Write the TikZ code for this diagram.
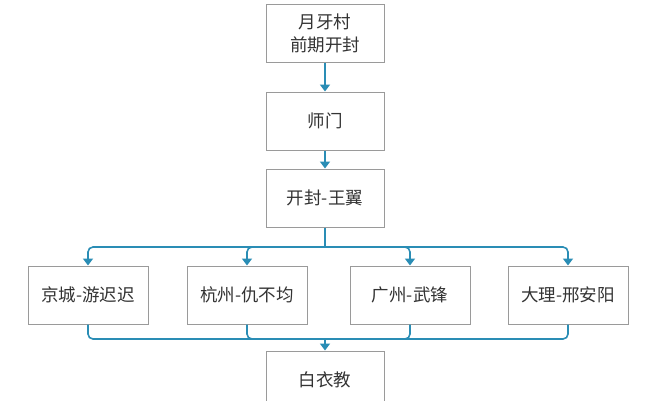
\documentclass[tikz,border=0pt]{standalone}
\usepackage{fontspec}
\setmainfont{Noto Sans CJK SC}
\usetikzlibrary{arrows.meta}
\definecolor{ln}{HTML}{2A8DB5}
\definecolor{bd}{HTML}{9A9A9A}
\begin{document}
\begin{tikzpicture}[x=1pt,y=-1pt,
  box/.style={draw=bd,line width=1pt,minimum width=118pt,minimum height=58pt,inner sep=0pt,align=center,font=\fontsize{17.5}{23}\selectfont,text=black!80},
  conn/.style={draw=ln,line width=1.6pt,-{Triangle[length=7pt,width=10pt]}},
  seg/.style={draw=ln,line width=1.6pt}]
\fill[white] (0,0) rectangle (651,400);
\clip (0,0) rectangle (651,400);
\useasboundingbox (0,0) rectangle (651,400);
\node[box] (a) at (325,33) {月牙村\\前期开封};
\node[box] (b) at (325,121) {师门};
\node[box] (c) at (325,198) {开封-王翼};
\node[box,minimum width=120pt] (d1) at (88,295) {京城-游迟迟};
\node[box,minimum width=120pt] (d2) at (247,295) {杭州-仇不均};
\node[box,minimum width=120pt] (d3) at (410,295) {广州-武锋};
\node[box,minimum width=120pt] (d4) at (568,295) {大理-邢安阳};
\node[box] (e) at (325,380) {白衣教};
\coordinate (s) at (325,247);
\coordinate (m) at (325,339);
\draw[conn] (a) -- (b);
\draw[conn] (b) -- (c);
\draw[seg] (c.south) -- (s);
\foreach \d in {d1,d2,d3,d4}{
  \draw[conn,rounded corners=5pt] (s) -| (\d.north);
  \draw[seg,rounded corners=5pt] (\d.south) |- (m);
}
\draw[conn] (m) -- (e.north);
\end{tikzpicture}
\end{document}
